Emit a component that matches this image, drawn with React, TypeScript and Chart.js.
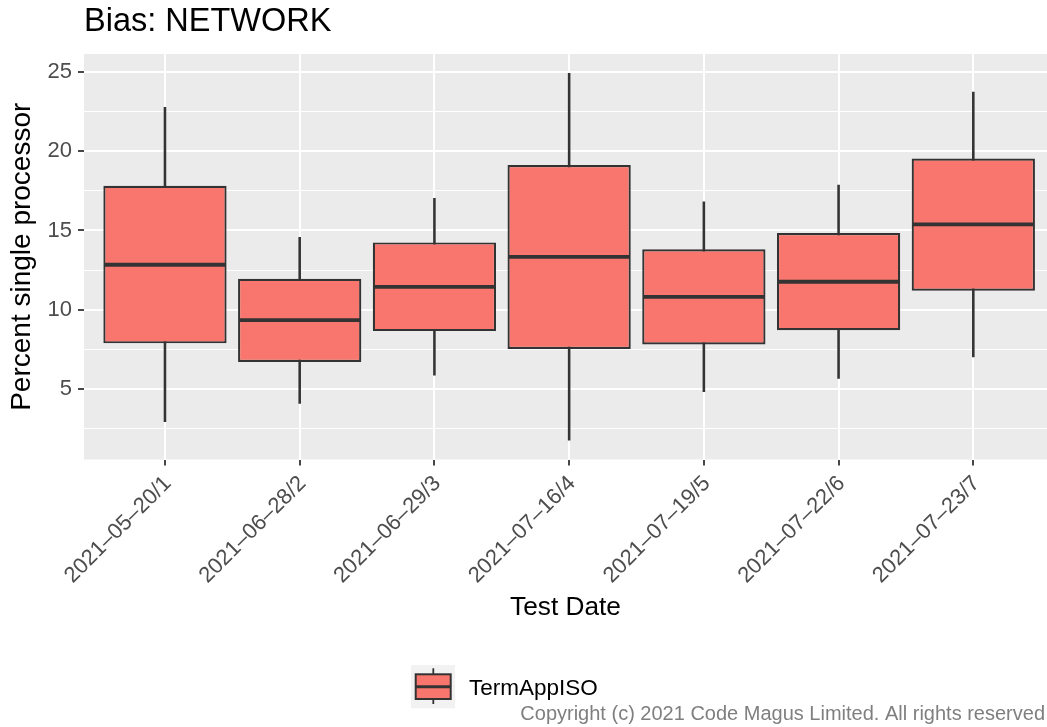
import { useEffect, useRef } from 'react';
import { Chart, registerables } from 'chart.js';

Chart.register(...registerables);

// ---- data ----
const categories = [
  '2021–05–20/1',
  '2021–06–28/2',
  '2021–06–29/3',
  '2021–07–16/4',
  '2021–07–19/5',
  '2021–07–22/6',
  '2021–07–23/7',
];
const whiskerLow = [2.95, 4.1, 5.89, 1.79, 4.84, 5.68, 7.04];
const lowerQuartile = [7.89, 6.71, 8.66, 7.53, 7.82, 8.72, 11.2];
const medianValues = [12.84, 9.35, 11.45, 13.34, 10.82, 11.77, 15.38];
const upperQuartile = [17.82, 11.96, 14.25, 19.12, 13.81, 14.84, 19.54];
const whiskerHigh = [22.76, 14.57, 17.02, 24.9, 16.81, 17.86, 23.72];

const yGridValues = [2.5, 5, 7.5, 10, 12.5, 15, 17.5, 20, 22.5, 25];
const yLabelledValues = [5, 10, 15, 20, 25];

const seriesName = 'TermAppISO';
const chartTitle = 'Bias: NETWORK';
const xTitle = 'Test Date';
const yTitle = 'Percent single processor';
const caption = 'Copyright (c) 2021 Code Magus Limited. All rights reserved';

// ---- style ----
const FONT = '"Liberation Sans", Arial, Helvetica, sans-serif';
const FILL = '#F8766D';
const LINE = '#333333';
const PANEL = '#EBEBEB';
const TICK_TEXT = '#4D4D4D';

export default function App() {
  const ref = useRef<HTMLCanvasElement>(null);

  useEffect(() => {
    const canvas = ref.current;
    if (!canvas) return;

    const panelBackground = {
      id: 'panelBackground',
      beforeDraw(chart: any) {
        const { ctx, chartArea: a } = chart;
        ctx.save();
        ctx.fillStyle = PANEL;
        ctx.fillRect(a.left, a.top, a.right - a.left, a.bottom - a.top);
        ctx.restore();
      },
    };

    const medianLines = {
      id: 'medianLines',
      afterDatasetsDraw(chart: any) {
        const { ctx } = chart;
        const yScale = chart.scales.y;
        const meta = chart.getDatasetMeta(1);
        ctx.save();
        ctx.strokeStyle = LINE;
        ctx.lineWidth = 3.8;
        ctx.lineCap = 'butt';
        meta.data.forEach((el: any, i: number) => {
          const { x, width } = el.getProps(['x', 'width'], true);
          const py = yScale.getPixelForValue(medianValues[i]);
          ctx.beginPath();
          ctx.moveTo(x - width / 2 + 1, py);
          ctx.lineTo(x + width / 2 - 1, py);
          ctx.stroke();
        });
        ctx.restore();
      },
    };

    const legendAndCaption = {
      id: 'legendAndCaption',
      afterDraw(chart: any) {
        const { ctx } = chart;
        ctx.save();
        ctx.fillStyle = '#F2F2F2';
        ctx.fillRect(411, 665, 44, 43.3);
        ctx.strokeStyle = LINE;
        ctx.lineWidth = 1.8;
        ctx.beginPath();
        ctx.moveTo(433.3, 668.3);
        ctx.lineTo(433.3, 704);
        ctx.stroke();
        ctx.fillStyle = FILL;
        ctx.fillRect(415.7, 674.3, 35, 24.7);
        ctx.lineWidth = 2;
        ctx.strokeRect(415.7, 674.3, 35, 24.7);
        ctx.lineWidth = 3;
        ctx.beginPath();
        ctx.moveTo(415.7, 686.7);
        ctx.lineTo(450.7, 686.7);
        ctx.stroke();
        ctx.fillStyle = '#000000';
        ctx.font = `22.5px ${FONT}`;
        ctx.textAlign = 'left';
        ctx.textBaseline = 'alphabetic';
        ctx.fillText(seriesName, 469, 694.5);
        ctx.fillStyle = '#7F7F7F';
        ctx.font = `20px ${FONT}`;
        ctx.textAlign = 'right';
        ctx.fillText(caption, 1045, 719.5);
        ctx.restore();
      },
    };

    const chart = new Chart(canvas, {
      type: 'bar',
      data: {
        datasets: [
          {
            label: 'whiskers',
            data: categories.map((_, i) => ({ x: i, y: [whiskerLow[i], whiskerHigh[i]] })),
            backgroundColor: LINE,
            barThickness: 1.9,
            grouped: false,
            order: 2,
          } as any,
          {
            label: seriesName,
            data: categories.map((_, i) => ({ x: i, y: [lowerQuartile[i], upperQuartile[i]] })),
            backgroundColor: FILL,
            borderColor: LINE,
            borderWidth: 2.2,
            borderSkipped: false,
            barPercentage: 0.915,
            categoryPercentage: 1,
            grouped: false,
            order: 1,
          } as any,
        ],
      },
      options: {
        animation: false,
        responsive: false,
        events: [],
        layout: { padding: { left: 0, right: 0, top: 0, bottom: 103.7 } },
        plugins: {
          legend: { display: false },
          tooltip: { enabled: false },
          title: {
            display: true,
            text: chartTitle,
            align: 'start',
            fullSize: false,
            color: '#000000',
            font: { family: FONT, size: 32.5, weight: 'normal', lineHeight: 1.2 },
            padding: { top: 2.5, bottom: 12.5 },
          },
        },
        scales: {
          x: {
            type: 'linear',
            offset: false,
            min: -0.601,
            max: 6.547,
            afterBuildTicks: (s: any) => {
              s.ticks = categories.map((_, i) => ({ value: i }));
            },
            afterFit: (s: any) => {
              s.height = 163.8;
              s.paddingLeft = 0;
              s.paddingRight = 0;
            },
            ticks: {
              autoSkip: false,
              minRotation: 45,
              maxRotation: 45,
              padding: 5.2,
              labelOffset: 3,
              color: TICK_TEXT,
              font: { family: FONT, size: 22 },
              callback: (_v: any, i: number) => categories[i],
            },
            grid: {
              offset: false,
              color: '#FFFFFF',
              lineWidth: 2,
              drawTicks: true,
              tickLength: 6,
              tickColor: LINE,
              tickWidth: 1.8,
            },
            border: { display: false },
            title: {
              display: true,
              text: xTitle,
              color: '#000000',
              font: { family: FONT, size: 26.25, lineHeight: 1.2 },
              padding: { top: 0, bottom: 0 },
            },
          },
          y: {
            type: 'linear',
            min: 0.57,
            max: 26.12,
            afterBuildTicks: (s: any) => {
              s.ticks = yGridValues.map((v) => ({ value: v }));
            },
            afterFit: (s: any) => {
              s.width = 84;
            },
            ticks: {
              padding: 6,
              color: TICK_TEXT,
              font: { family: FONT, size: 22 },
              callback: (v: any) => (yLabelledValues.includes(Number(v)) ? String(v) : ''),
            },
            grid: {
              color: '#FFFFFF',
              lineWidth: (c: any) => (yLabelledValues.includes(c.tick?.value) ? 2 : 1),
              drawTicks: true,
              tickLength: 6,
              tickColor: (c: any) => (yLabelledValues.includes(c.tick?.value) ? LINE : 'rgba(0,0,0,0)'),
              tickWidth: 1.8,
            },
            border: { display: false },
            title: {
              display: true,
              text: yTitle,
              color: '#000000',
              font: { family: FONT, size: 28, lineHeight: 1.2 },
              padding: { top: 5.5, bottom: 0 },
            },
          },
        },
      } as any,
      plugins: [panelBackground, medianLines, legendAndCaption],
    });

    return () => chart.destroy();
  }, []);

  return (
    <div style={{ position: 'fixed', left: 0, top: 0, width: 1047, height: 727 }}>
      <canvas ref={ref} width={1047} height={727} style={{ display: 'block' }} />
    </div>
  );
}
